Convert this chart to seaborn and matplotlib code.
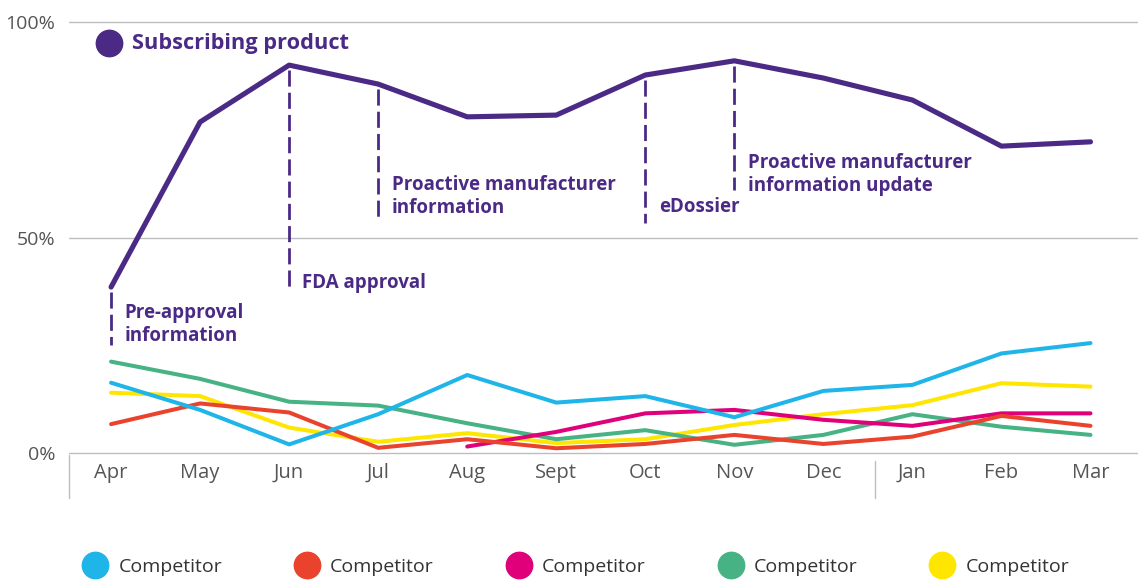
import numpy as np
import pandas as pd
import seaborn as sns
import matplotlib
matplotlib.use("Agg")
import matplotlib.pyplot as plt
import matplotlib.transforms as mtransforms
from matplotlib.lines import Line2D

# ── Données (parts en %) ────────────────────────────────────────
months = ["Apr", "May", "Jun", "Jul", "Aug", "Sept", "Oct", "Nov", "Dec", "Jan", "Feb", "Mar"]
subscribing = [38.5, 76.8, 90.0, 85.6, 78.0, 78.4, 87.7, 91.0, 87.0, 81.9, 71.2, 72.2]
comp_blue = [16.3, 10.0, 2.0, 9.0, 18.1, 11.7, 13.2, 8.3, 14.4, 15.8, 23.1, 25.5]
comp_red = [6.7, 11.5, 9.4, 1.2, 3.2, 1.1, 2.1, 4.2, 2.1, 3.8, 8.6, 6.3]
comp_magenta = [np.nan, np.nan, np.nan, np.nan, 1.5, 4.9, 9.2, 10.0, 7.7, 6.3, 9.2, 9.2]
comp_green = [21.2, 17.2, 11.9, 11.0, 6.9, 3.2, 5.3, 1.9, 4.2, 9.0, 6.1, 4.2]
comp_yellow = [14.0, 13.2, 5.9, 2.6, 4.6, 2.3, 3.2, 6.5, 9.0, 11.1, 16.2, 15.4]

# événements annotés : mois, texte, bas du trait pointillé (%), centre du texte (%)
event_months = ["Apr", "Jun", "Jul", "Oct", "Nov"]
event_labels = ["Pre-approval\ninformation", "FDA approval",
                "Proactive manufacturer\ninformation", "eDossier",
                "Proactive manufacturer\ninformation update"]
event_line_end = [25.1, 37.8, 54.8, 53.4, 61.0]
event_text_y = [29.9, 39.4, 59.6, 57.1, 64.7]

# ── Palette ─────────────────────────────────────────────────────
PURPLE = "#4B2A85"
GRID = "#BDBDBD"
TICK = "#555555"
COLORS = {"blue": "#1FB5E9", "red": "#E9432D", "magenta": "#E0007A",
          "green": "#47B384", "yellow": "#FFE600"}
LEGEND_ORDER = ["blue", "red", "magenta", "green", "yellow"]

sns.set_theme(style="white")
plt.rcParams["font.family"] = ["Open Sans", "DejaVu Sans"]

df = pd.DataFrame({"idx": range(len(months)), "blue": comp_blue, "red": comp_red,
                   "magenta": comp_magenta, "green": comp_green, "yellow": comp_yellow})
long = df.melt(id_vars="idx", var_name="series", value_name="share").dropna()

fig = plt.figure(figsize=(11.45, 5.81), dpi=100)
ax = fig.add_axes([0.0603, 0.2134, 0.934, 0.7556])

sns.lineplot(data=long, x="idx", y="share", hue="series",
             hue_order=LEGEND_ORDER[::-1], palette=COLORS, lw=2.9,
             legend=False, ax=ax, solid_capstyle="round")
sns.lineplot(x=range(len(months)), y=subscribing, color=PURPLE, lw=3.7,
             ax=ax, solid_capstyle="round", zorder=5)

# traits pointillés + textes
for m, lab, y_end, y_txt in zip(event_months, event_labels, event_line_end, event_text_y):
    i = months.index(m)
    ax.vlines(i, subscribing[i] - 1.2, y_end, colors=PURPLE, lw=2.0,
              linestyles=(0, (5.8, 2.2)), zorder=4)
    ax.text(i + 0.15, y_txt, lab, color=PURPLE, fontsize=13.5,
            fontweight="bold", ha="left", va="center", linespacing=1.2)

# axes
ax.set_xlim(-0.472, 11.539)
ax.set_ylim(-0.93, 100.93)
ax.set_xticks(range(len(months)))
ax.set_xticklabels(months)
ax.set_yticks([0, 50, 100])
ax.set_yticklabels(["0%", "50%", "100%"])
ax.set_xlabel("")
ax.set_ylabel("")
ax.tick_params(axis="both", length=0, labelsize=14, labelcolor=TICK)
ax.tick_params(axis="x", labelsize=14.5, pad=4)
ax.tick_params(axis="y", pad=10)
ax.yaxis.grid(True, color=GRID, lw=1.0)
ax.xaxis.grid(False)
for s in ax.spines.values():
    s.set_visible(False)

# séparateurs d'exercice sous l'axe
trans = mtransforms.blended_transform_factory(ax.transData, ax.transAxes)
ax.plot([0, 0], [0.005, -0.093], transform=ax.transAxes, color=GRID, lw=1.0, clip_on=False)
ax.plot([8.58, 8.58], [-0.009, -0.093], transform=trans, color=GRID, lw=1.0, clip_on=False)

# légende produit
ax.plot([0.0374], [0.943], "o", ms=19, color=PURPLE, transform=ax.transAxes, clip_on=False)
ax.text(0.0589, 0.943, "Subscribing product", transform=ax.transAxes, color=PURPLE,
        fontsize=15.7, fontweight="bold", ha="left", va="center")

# légende concurrents
handles = [Line2D([], [], ls="", marker="o", ms=19, color=COLORS[k]) for k in LEGEND_ORDER]
fig.legend(handles, ["Competitor"] * 5, loc="center left", bbox_to_anchor=(0.066, 0.024),
           ncol=5, frameon=False, fontsize=14, labelcolor="#333333",
           handlelength=1.0, handletextpad=0.7, columnspacing=3.86, borderpad=0)

fig.savefig("out.png", dpi=100)
